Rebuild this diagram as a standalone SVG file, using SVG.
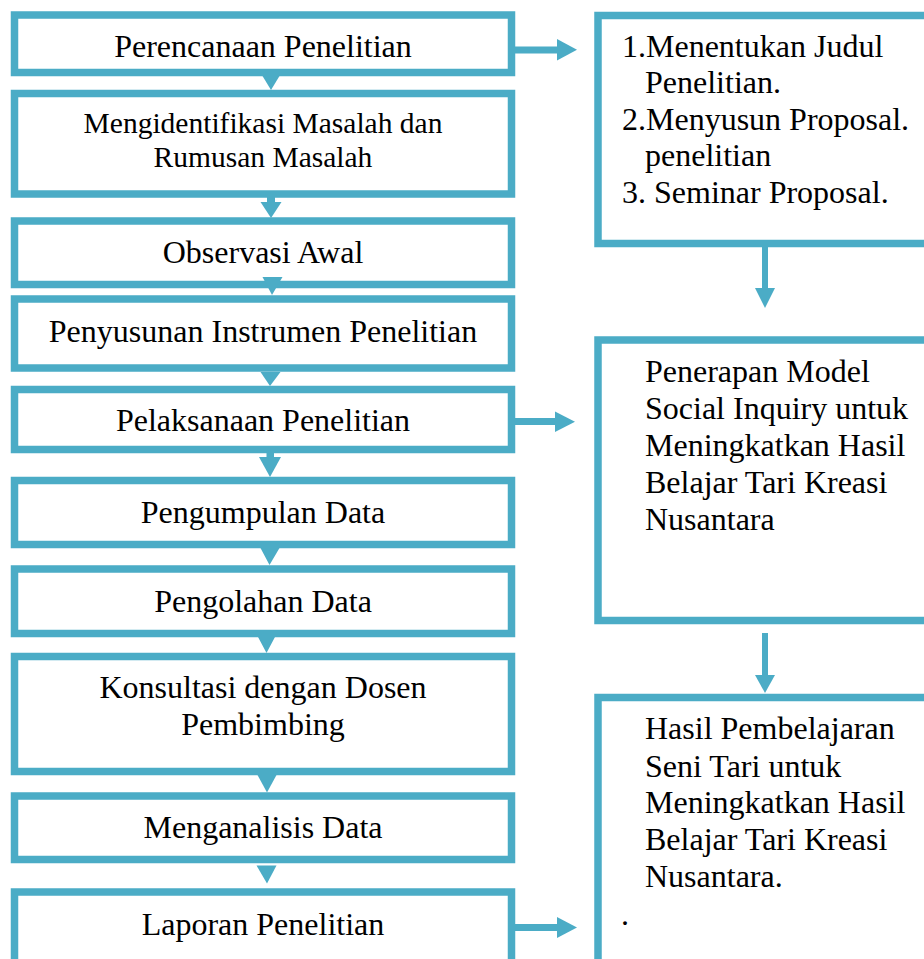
<svg xmlns="http://www.w3.org/2000/svg" width="924" height="959" viewBox="0 0 924 959">
<style>
.box{fill:#fff;stroke:#4BACC6;stroke-width:7.5}
.arw{fill:#4BACC6;stroke:none}
.shaft{stroke:#4BACC6;stroke-width:7;fill:none}
text{font-family:"Liberation Serif","Times New Roman",serif;font-size:32px;fill:#000}
.c{text-anchor:middle}
.s{font-size:29.5px}
</style>
<rect x="0" y="0" width="924" height="959" fill="#fff"/>
<g id="n1"><rect class="box" x="14.5" y="15" width="497" height="57.5"/><text class="c" x="263" y="57">Perencanaan Penelitian</text></g>
<g id="n2"><rect class="box" x="14.5" y="93.5" width="497" height="100.5"/><text class="c s" x="263" y="133">Mengidentifikasi Masalah dan</text><text class="c s" x="263" y="167">Rumusan Masalah</text></g>
<g id="n3"><rect class="box" x="14.5" y="221" width="497" height="63.5"/><text class="c" x="263" y="263">Observasi Awal</text></g>
<g id="n4"><rect class="box" x="14.5" y="299" width="497" height="69"/><text class="c" x="263" y="342">Penyusunan Instrumen Penelitian</text></g>
<g id="n5"><rect class="box" x="14.5" y="389.5" width="497" height="60"/><text class="c" x="263" y="431">Pelaksanaan Penelitian</text></g>
<g id="n6"><rect class="box" x="14.5" y="480.5" width="497" height="64"/><text class="c" x="263" y="523">Pengumpulan Data</text></g>
<g id="n7"><rect class="box" x="14.5" y="569" width="497" height="64.5"/><text class="c" x="263" y="612">Pengolahan Data</text></g>
<g id="n8"><rect class="box" x="14.5" y="656.5" width="497" height="115"/><text class="c" x="263" y="698">Konsultasi dengan Dosen</text><text class="c" x="263" y="735">Pembimbing</text></g>
<g id="n9"><rect class="box" x="14.5" y="796" width="497" height="63.5"/><text class="c" x="263" y="838">Menganalisis Data</text></g>
<g id="n10"><rect class="box" x="14.5" y="892" width="497" height="90"/><text class="c" x="263" y="935">Laporan Penelitian</text></g>
<g id="r1"><rect class="box" x="598" y="15.5" width="340" height="228"/>
<text x="622" y="57">1.Menentukan Judul</text>
<text x="645" y="93">Penelitian.</text>
<text x="622" y="130">2.Menyusun Proposal.</text>
<text x="645" y="166">penelitian</text>
<text x="622" y="203">3. Seminar Proposal.</text></g>
<g id="r2"><rect class="box" x="598" y="340" width="340" height="280.5"/>
<text x="645" y="382">Penerapan Model</text>
<text x="645" y="419">Social Inquiry untuk</text>
<text x="645" y="456">Meningkatkan Hasil</text>
<text x="645" y="493">Belajar Tari Kreasi</text>
<text x="645" y="530">Nusantara</text></g>
<g id="r3"><rect class="box" x="598" y="697.5" width="340" height="290"/>
<text x="645" y="739">Hasil Pembelajaran</text>
<text x="645" y="777">Seni Tari untuk</text>
<text x="645" y="813">Meningkatkan Hasil</text>
<text x="645" y="850">Belajar Tari Kreasi</text>
<text x="645" y="887">Nusantara.</text>
<text x="621" y="925">.</text></g>
<g id="connectors">
<polygon class="arw" points="262.5,76 279.5,76 271,90"/>
<rect class="arw" x="267" y="196" width="8" height="7"/>
<polygon class="arw" points="260.5,202 281.5,202 271,218"/>
<polygon class="arw" points="262.5,277 282.5,277 272,295"/>
<polygon class="arw" points="260.5,372 280.5,372 270,386"/>
<rect class="arw" x="266.5" y="452" width="7.5" height="6"/>
<polygon class="arw" points="259,457 281,457 270,477"/>
<polygon class="arw" points="260.5,548 279.5,548 269.5,565"/>
<polygon class="arw" points="257.5,636 275.5,636 266.5,653"/>
<polygon class="arw" points="257.5,775 276.5,775 267,792.5"/>
<polygon class="arw" points="256.5,865.5 276.5,865.5 267,883.5"/>
<line class="shaft" x1="515" y1="50" x2="558" y2="50"/>
<polygon class="arw" points="557,39 557,60.5 577,49.8"/>
<line class="shaft" x1="515" y1="421.5" x2="556" y2="421.5"/>
<polygon class="arw" points="555,411.5 555,432 575,421.8"/>
<line class="shaft" x1="515" y1="927.5" x2="558" y2="927.5"/>
<polygon class="arw" points="557,917 557,938 577,927.5"/>
<line class="shaft" x1="765" y1="247" x2="765" y2="289" style="stroke-width:6"/>
<polygon class="arw" points="755,288 775,288 765,308"/>
<line class="shaft" x1="765" y1="633" x2="765" y2="676" style="stroke-width:6"/>
<polygon class="arw" points="755,675 775,675 765,693"/>
</g>
</svg>
